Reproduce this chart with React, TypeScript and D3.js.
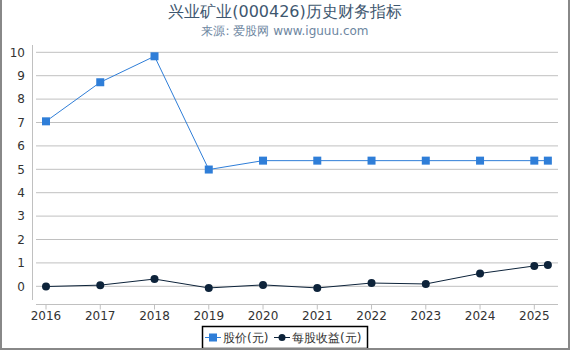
import React from 'react';
import * as d3 from 'd3';

// data (last point is an interim 2025 report)
const years = [2016, 2017, 2018, 2019, 2020, 2021, 2022, 2023, 2024, 2025, 2025.25];
const price = [7.05, 8.72, 9.83, 4.99, 5.37, 5.37, 5.37, 5.37, 5.37, 5.37, 5.37];
const eps = [-0.01, 0.05, 0.31, -0.07, 0.06, -0.07, 0.14, 0.1, 0.55, 0.87, 0.91];
const xTicks = [2016, 2017, 2018, 2019, 2020, 2021, 2022, 2023, 2024, 2025];
const yTicks = [0, 1, 2, 3, 4, 5, 6, 7, 8, 9, 10];

const W = 570;
const H = 350;
const FONT = '"DejaVu Sans", sans-serif';
const BLUE = '#2f7ed8';
const NAVY = '#0d233a';

export default function App() {
  const x = d3.scaleLinear().domain([2016, 2025]).range([46, 534.3]);
  const y = d3.scaleLinear().domain([0, 10]).range([286.3, 52.3]);
  const left = 36, right = 558, top = 45, bottom = 304.5;

  const line = d3.line<number>()
    .x((d, i) => x(years[i]))
    .y((d) => y(d));

  return (
    <svg width={W} height={H} style={{ position: 'absolute', left: 0, top: 0, background: '#fff' }} fontFamily={FONT}>
      <text x={285} y={17} textAnchor="middle" fontSize={16} fill="#3e576f">兴业矿业(000426)历史财务指标</text>
      <text x={285} y={35} textAnchor="middle" fontSize={12} fill="#6d869f">来源: 爱股网 www.iguuu.com</text>

      {/* grid + y labels */}
      {yTicks.map((t) => (
        <g key={t}>
          <line x1={left} x2={right} y1={y(t)} y2={y(t)} stroke="#c0c0c0" strokeWidth={1} />
          <text x={25} y={y(t)} dy="0.35em" textAnchor="end" fontSize={12} fill="#333">{t}</text>
        </g>
      ))}
      <line x1={32.5} x2={32.5} y1={top} y2={300} stroke="#c0c0c0" strokeWidth={1} />

      {/* x axis */}
      <line x1={left} x2={right} y1={bottom} y2={bottom} stroke="#c0c0c0" strokeWidth={1} />
      {xTicks.map((t) => (
        <g key={t}>
          <line x1={x(t)} x2={x(t)} y1={bottom} y2={bottom + 5} stroke="#c0c0c0" />
          <text x={x(t)} y={320} textAnchor="middle" fontSize={12} fill="#333">{t}</text>
        </g>
      ))}

      {/* price series */}
      <path d={line(price) || ''} fill="none" stroke={BLUE} strokeWidth={1} />
      {price.map((v, i) => (
        <rect key={i} x={x(years[i]) - 4} y={y(v) - 4} width={8} height={8} fill={BLUE} />
      ))}

      {/* eps series */}
      <path d={line(eps) || ''} fill="none" stroke={NAVY} strokeWidth={1} />
      {eps.map((v, i) => (
        <circle key={i} cx={x(years[i])} cy={y(v)} r={4} fill={NAVY} />
      ))}

      {/* legend */}
      <rect x={202.5} y={326.5} width={165} height={22} fill="#fff" stroke="#000" strokeWidth={1.5} />
      <line x1={205} x2={221} y1={337.5} y2={337.5} stroke={BLUE} strokeWidth={1} />
      <rect x={209} y={333.5} width={8} height={8} fill={BLUE} />
      <text x={223} y={342} fontSize={12} fill="#333">股价(元)</text>
      <line x1={274} x2={290} y1={337.5} y2={337.5} stroke={NAVY} strokeWidth={1} />
      <circle cx={282} cy={337.5} r={3.5} fill={NAVY} />
      <text x={292} y={342} fontSize={12} fill="#333">每股收益(元)</text>

      {/* outer frame */}
      <line x1={1} x2={1} y1={0} y2={H} stroke="#888" strokeWidth={2} />
      <line x1={569} x2={569} y1={0} y2={H} stroke="#888" strokeWidth={2} />
      <line x1={0} x2={W} y1={349} y2={349} stroke="#888" strokeWidth={2} />
    </svg>
  );
}
